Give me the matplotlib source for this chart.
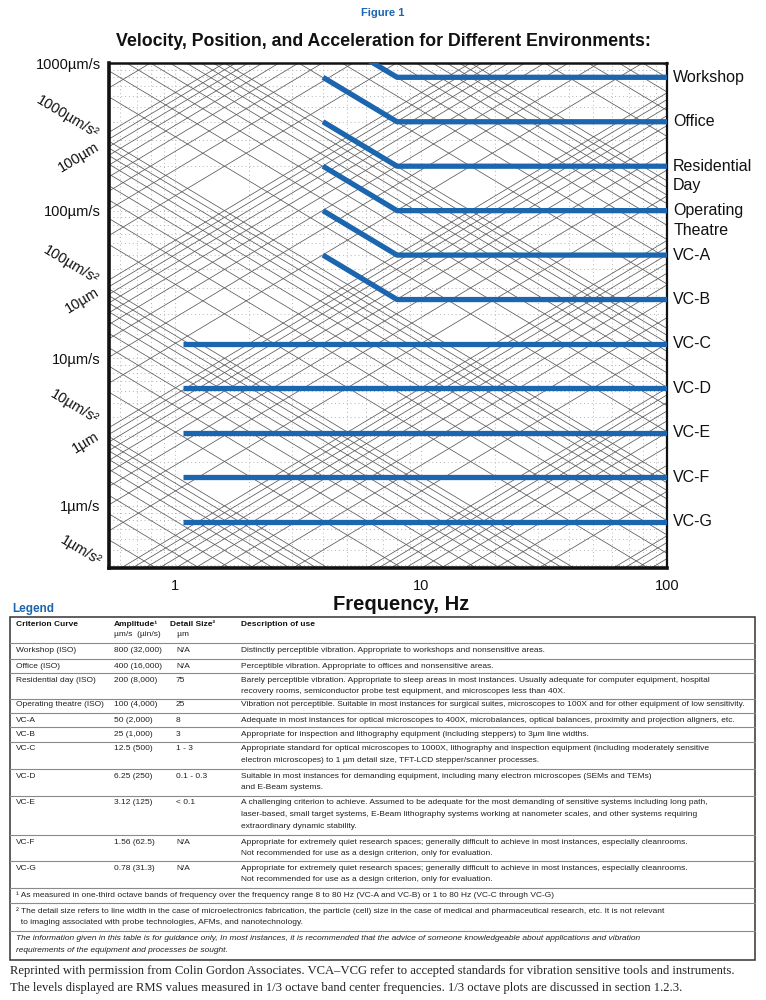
import matplotlib
matplotlib.use('Agg')
import matplotlib.pyplot as plt
import numpy as np
from matplotlib.ticker import NullFormatter, FixedLocator
from matplotlib.patches import Rectangle

plt.rcParams['font.family'] = ['Liberation Sans', 'DejaVu Sans']

# ---------------- data ----------------
criteria_labels = ['Workshop', 'Office', 'Residential\nDay', 'Operating\nTheatre',
                   'VC-A', 'VC-B', 'VC-C', 'VC-D', 'VC-E', 'VC-F', 'VC-G']
criteria_velocity = [800, 400, 200, 100, 50, 25, 12.5, 6.25, 3.12, 1.56, 0.78]   # um/s
criteria_f_start = [4, 4, 4, 4, 4, 4, 1.08, 1.08, 1.08, 1.08, 1.08]             # Hz
criteria_f_knee = [8, 8, 8, 8, 8, 8, 1.08, 1.08, 1.08, 1.08, 1.08]              # Hz
f_end = 100

x_ticks = [1, 10, 100]
x_ticklabels = ['1', '10', '100']
y_ticks = [1, 10, 100, 1000]
y_ticklabels = ['1\u00b5m/s', '10\u00b5m/s', '100\u00b5m/s', '1000\u00b5m/s']

grid_mantissas = [1, 2, 3, 4, 5, 6, 7, 8, 9]
disp_decades = [1e-4, 1e-3, 1e-2, 1e-1, 1, 10, 100]          # um
accel_decades = [1e-1, 1, 10, 100, 1e3, 1e4, 1e5, 1e6]        # um/s^2

table_header = [('Criterion Curve', ''), ('Amplitude\u00b9', '\u00b5m/s  (\u00b5in/s)'),
                ('Detail Size\u00b2', '   \u00b5m'), ('Description of use', '')]
table_curve = ['Workshop (ISO)', 'Office (ISO)', 'Residential day (ISO)', 'Operating theatre (ISO)',
               'VC-A', 'VC-B', 'VC-C', 'VC-D', 'VC-E', 'VC-F', 'VC-G']
table_amplitude = ['800 (32,000)', '400 (16,000)', '200 (8,000)', '100 (4,000)', '50 (2,000)',
                   '25 (1,000)', '12.5 (500)', '6.25 (250)', '3.12 (125)', '1.56 (62.5)', '0.78 (31.3)']
table_detail = ['N/A', 'N/A', '75', '25', '8', '3', '1 - 3', '0.1 - 0.3', '< 0.1', 'N/A', 'N/A']
table_desc = [
    ['Distinctly perceptible vibration. Appropriate to workshops and nonsensitive areas.'],
    ['Perceptible vibration. Appropriate to offices and nonsensitive areas.'],
    ['Barely perceptible vibration. Appropriate to sleep areas in most instances. Usually adequate for computer equipment, hospital',
     'recovery rooms, semiconductor probe test equipment, and microscopes less than 40X.'],
    ['Vibration not perceptible. Suitable in most instances for surgical suites, microscopes to 100X and for other equipment of low sensitivity.'],
    ['Adequate in most instances for optical microscopes to 400X, microbalances, optical balances, proximity and projection aligners, etc.'],
    ['Appropriate for inspection and lithography equipment (including steppers) to 3\u00b5m line widths.'],
    ['Appropriate standard for optical microscopes to 1000X, lithography and inspection equipment (including moderately sensitive',
     'electron microscopes) to 1 \u00b5m detail size, TFT-LCD stepper/scanner processes.'],
    ['Suitable in most instances for demanding equipment, including many electron microscopes (SEMs and TEMs)',
     'and E-Beam systems.'],
    ['A challenging criterion to achieve. Assumed to be adequate for the most demanding of sensitive systems including long path,',
     'laser-based, small target systems, E-Beam lithography systems working at nanometer scales, and other systems requiring',
     'extraordinary dynamic stability.'],
    ['Appropriate for extremely quiet research spaces; generally difficult to achieve in most instances, especially cleanrooms.',
     'Not recommended for use as a design criterion, only for evaluation.'],
    ['Appropriate for extremely quiet research spaces; generally difficult to achieve in most instances, especially cleanrooms.',
     'Not recommended for use as a design criterion, only for evaluation.'],
]
footnotes = [
    ['\u00b9 As measured in one-third octave bands of frequency over the frequency range 8 to 80 Hz (VC-A and VC-B) or 1 to 80 Hz (VC-C through VC-G)'],
    ['\u00b2 The detail size refers to line width in the case of microelectronics fabrication, the particle (cell) size in the case of medical and pharmaceutical research, etc. It is not relevant',
     '  to imaging associated with probe technologies, AFMs, and nanotechnology.'],
]
guidance = ['The information given in this table is for guidance only, In most instances, it is recommended that the advice of someone knowledgeable about applications and vibration',
            'requirements of the equipment and processes be sought.']
footer = ['Reprinted with permission from Colin Gordon Associates. VCA\u2013VCG refer to accepted standards for vibration sensitive tools and instruments.',
          'The levels displayed are RMS values measured in 1/3 octave band center frequencies. 1/3 octave plots are discussed in section 1.2.3.']

# ---------------- figure ----------------
W, H = 766, 1000
fig = plt.figure(figsize=(W / 100, H / 100), dpi=100)

def fx(x):
    return x / W

def fy(y):
    return 1 - y / H

BLUE = '#1b66ae'
xmin, xmax = 0.54, 100
ymin, ymax = 0.38, 1000

ax = fig.add_axes([fx(109), fy(568), (667 - 109) / W, (568 - 63) / H])
ax.set_xscale('log')
ax.set_yscale('log')
ax.set_xlim(xmin, xmax)
ax.set_ylim(ymin, ymax)

# dotted background grid
ax.grid(True, which='both', linestyle=(0, (1, 3)), color='#b5b5b5', linewidth=0.7)

# tripartite diagonal lines
fr = np.array([xmin, xmax])
for dec in disp_decades:
    for m in grid_mantissas:
        d = m * dec
        ax.plot(fr, 2 * np.pi * fr * d, color='#5a5a5a', lw=0.55, zorder=2)
for dec in accel_decades:
    for m in grid_mantissas:
        a = m * dec
        ax.plot(fr, a / (2 * np.pi * fr), color='#5a5a5a', lw=0.55, zorder=2)

# criterion curves
for lab, v, fs, fk in zip(criteria_labels, criteria_velocity, criteria_f_start, criteria_f_knee):
    fvals = [fs, fk, f_end]
    vvals = [v * fk / fs, v, v]
    ax.plot(fvals, vvals, color=BLUE, lw=3.8, solid_capstyle='butt', zorder=4)
    for i, line in enumerate(lab.split('\n')):
        ax.annotate(line, xy=(1, v), xycoords=('axes fraction', 'data'),
                    xytext=(4.5, -i * 14.2), textcoords='offset points',
                    ha='left', va='center', fontsize=11.5, color='#111111',
                    annotation_clip=False)

ax.xaxis.set_major_locator(FixedLocator(x_ticks))
ax.set_xticklabels(x_ticklabels)
ax.yaxis.set_major_locator(FixedLocator(y_ticks))
ax.set_yticklabels(y_ticklabels)
ax.xaxis.set_minor_formatter(NullFormatter())
ax.yaxis.set_minor_formatter(NullFormatter())
ax.tick_params(which='both', length=0)
ax.tick_params(axis='x', labelsize=10.5, pad=8, colors='#111111')
ax.tick_params(axis='y', labelsize=10.5, pad=6, colors='#111111')
for side, lw in [('left', 2.6), ('bottom', 2.6), ('top', 1.8), ('right', 1.6)]:
    ax.spines[side].set_linewidth(lw)
    ax.spines[side].set_color('#111111')

# rotated displacement / acceleration labels
rot_labels = [('1000\u00b5m/s\u00b2', 67, 117, -31), ('100\u00b5m', 79, 157, 31),
              ('100\u00b5m/s\u00b2', 71, 265, -31), ('10\u00b5m', 82, 300, 31),
              ('10\u00b5m/s\u00b2', 74, 407, -31), ('1\u00b5m', 86, 443, 31),
              ('1\u00b5m/s\u00b2', 81, 551, -31)]
for t, x, y, r in rot_labels:
    fig.text(fx(x), fy(y), t, rotation=r, ha='center', va='center', fontsize=10.5,
             rotation_mode='anchor', color='#111111')

# titles
fig.text(fx(383), fy(13), 'Figure 1', ha='center', va='center', fontsize=8,
         fontweight='bold', color='#1b66ae')
fig.text(fx(383), fy(42), 'Velocity, Position, and Acceleration for Different Environments:',
         ha='center', va='center', fontsize=12.8, fontweight='bold', color='#111111')
fig.text(fx(401), fy(604), 'Frequency, Hz', ha='center', va='center', fontsize=14.5,
         fontweight='bold', color='#111111')

# ---------------- legend table ----------------
ov = fig.add_axes([0, 0, 1, 1], zorder=5)
ov.set_xlim(0, W)
ov.set_ylim(H, 0)
ov.axis('off')

TF = ['Liberation Sans', 'DejaVu Sans']
FS = 6.0
ov.text(12, 609, 'Legend', fontsize=8.5, fontweight='bold', color='#1b66ae', va='center', family=TF)

tab_left, tab_right, tab_top, tab_bot = 10, 755, 617, 960
ov.add_patch(Rectangle((tab_left, tab_top), tab_right - tab_left, tab_bot - tab_top,
                       fill=False, edgecolor='#333333', lw=1.1))

col_x = [16, 114, 170, 241]
for (h1, h2), cx in zip(table_header, col_x):
    ov.text(cx, 624, h1, fontsize=FS, fontweight='bold', va='center', family=TF, color='#111111')
    if h2:
        ov.text(cx, 635, h2, fontsize=FS, va='center', family=TF, color='#222222')

row_y = [651, 666, 680, 705, 720, 734, 749, 776, 803, 842, 868]
sep_y = [643, 658.5, 673, 698.5, 712.5, 727, 741.5, 768.5, 795.5, 834.5, 861, 887.5, 903, 931]
LS = 11.8
for y in sep_y:
    ov.plot([tab_left, tab_right], [y, y], color='#8a8a8a', lw=0.8)
for y, c, a, d, desc in zip(row_y, table_curve, table_amplitude, table_detail, table_desc):
    ov.text(col_x[0], y, c, fontsize=FS, va='center', family=TF, color='#222222')
    ov.text(col_x[1], y, a, fontsize=FS, va='center', family=TF, color='#222222')
    ov.text(col_x[2] + 6, y, d, fontsize=FS, va='center', family=TF, color='#222222')
    for i, line in enumerate(desc):
        ov.text(col_x[3], y + i * LS, line, fontsize=FS, va='center', family=TF, color='#222222')

fn_y = [895, 911]
for y, lines in zip(fn_y, footnotes):
    for i, line in enumerate(lines):
        ov.text(16, y + i * LS, line, fontsize=FS, va='center', family=TF, color='#222222')
for i, line in enumerate(guidance):
    ov.text(16, 939 + i * LS, line, fontsize=FS, va='center', style='italic', family=TF, color='#222222')

for i, line in enumerate(footer):
    ov.text(10, 971 + i * 17, line, fontsize=9.05, va='center',
            family=['Liberation Serif', 'DejaVu Serif'], color='#222222')

fig.savefig('out.png', dpi=100)
